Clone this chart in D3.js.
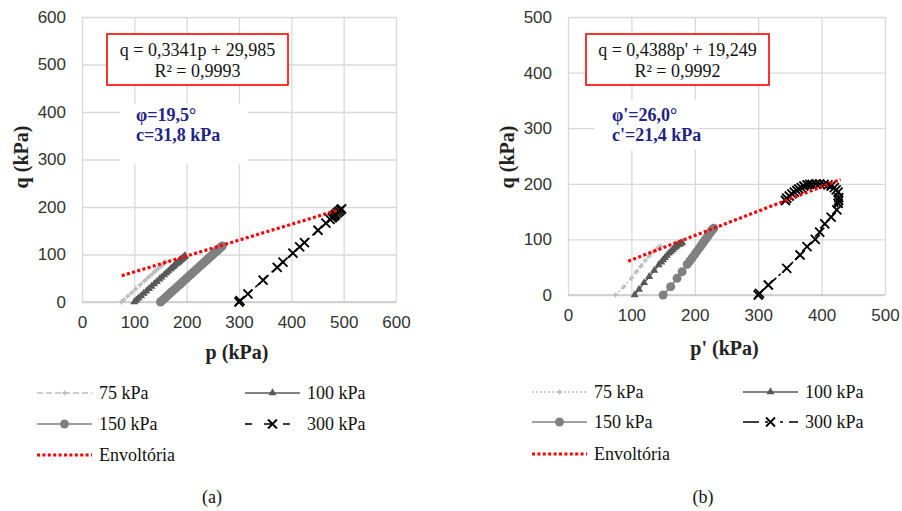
<!DOCTYPE html>
<html>
<head>
<meta charset="utf-8">
<script src="https://cdn.jsdelivr.net/npm/d3@7"></script>
<style>
  body { margin: 0; background: #fff; }
  svg text { font-family: "Liberation Serif", "Times New Roman", serif; }
  .tick text { font-family: "Liberation Sans", Arial, sans-serif; font-size: 17px; fill: #333; }
</style>
</head>
<body>
<svg id="chart" width="902" height="511"></svg>
<script>
// ---- data, panel (a): total stress p x q ----
const pA75 = [75, 80, 87, 95, 103, 111, 119, 125, 130, 135, 139, 142, 145, 148, 151, 153, 155, 157, 159, 160];
const qA75 = [0, 5, 12, 20, 28, 36, 44, 50, 55, 60, 64, 67, 70, 73, 76, 78, 80, 82, 84, 85];
const pA100 = [100, 104, 108, 113, 118, 123, 128, 133, 138, 143, 148, 152, 157, 161, 165, 169, 172, 175, 178, 181, 183, 185, 187, 189, 190, 192, 193, 195, 196, 197];
const qA100 = [0, 4, 8, 13, 18, 23, 28, 33, 38, 43, 48, 52, 57, 61, 65, 69, 72, 75, 78, 81, 83, 85, 87, 89, 90, 92, 93, 95, 96, 97];
const pA150 = [150, 153, 156, 160, 164, 168, 172, 176, 180, 184, 188, 192, 196, 200, 204, 208, 212, 216, 220, 224, 227, 230, 233, 236, 239, 242, 245, 248, 251, 254, 256, 258, 260, 262, 264, 266, 268];
const qA150 = [0, 3, 6, 10, 14, 18, 22, 26, 30, 34, 38, 42, 46, 50, 54, 58, 62, 66, 70, 74, 77, 80, 83, 86, 89, 92, 95, 98, 101, 104, 106, 108, 110, 112, 114, 116, 118];
const pA300 = [300, 302, 317, 346, 373, 384, 403, 416, 425, 451, 466, 474, 478, 480, 483, 485, 488, 491, 494, 496];
const qA300 = [0, 3, 17, 46, 73, 84, 103, 116, 125, 151, 166, 174, 177, 180, 182, 185, 188, 191, 194, 196];
const pAEnv = [76, 490];
const qAEnv = [55.4, 193.7];

// ---- data, panel (b): effective stress p' x q ----
const pB75 = [75, 88, 100, 108, 115, 122, 128, 134, 139, 143, 146];
const qB75 = [0, 15, 30, 42, 52, 62, 70, 77, 82, 86, 88];
const pB100 = [105, 112, 120, 128, 136, 143, 147, 150, 153, 156, 159, 162, 165, 167, 169, 171, 173, 175, 177, 178, 180];
const qB100 = [0, 10, 22, 33, 44, 54, 59, 63, 67, 71, 75, 78, 81, 84, 86, 88, 90, 91, 92, 93, 94];
const pB150 = [150, 162, 172, 180, 188, 192, 196, 200, 203, 207, 210, 213, 216, 219, 221, 223, 225, 227, 228, 230];
const qB150 = [0, 15, 30, 42, 55, 61, 67, 73, 78, 84, 89, 94, 99, 103, 107, 110, 113, 116, 118, 120];
const pB300 = [300, 302, 316, 345, 366, 377, 390, 397, 405, 415, 424, 426, 427, 427, 426, 423, 420, 415, 410, 404, 397, 391, 385, 381, 377, 372, 368, 364, 361, 357, 353, 349, 345, 343];
const qB300 = [0, 3, 18, 48, 72, 87, 100, 113, 128, 140, 153, 165, 170, 175, 185, 189, 193, 196, 198, 199, 200, 200, 199, 199, 198, 196, 193, 191, 188, 185, 182, 178, 174, 170];
const pBEnv = [95, 430];
const qBEnv = [60.9, 207.9];

const seriesLabels = ['75 kPa', '100 kPa', '150 kPa', '300 kPa'];
const seriesColors = ['#bdbdbd', '#595959', '#808080', '#000000'];
const envLabel = 'Envoltória';

const svg = d3.select('#chart');

function zip(ps, qs) {
  return ps.map((p, i) => [p, qs[i]]);
}

function drawMarker(g, kind, color, x, y) {
  if (kind === 'plus') {
    g.append('path').attr('d', `M${x - 2.5},${y}L${x + 2.5},${y}M${x},${y - 2.5}L${x},${y + 2.5}`)
      .attr('stroke', color).attr('stroke-width', 1.6);
  } else if (kind === 'tri') {
    g.append('path').attr('d', d3.symbol(d3.symbolTriangle, 28)()).attr('transform', `translate(${x},${y})`)
      .attr('fill', color);
  } else if (kind === 'circle') {
    g.append('circle').attr('cx', x).attr('cy', y).attr('r', 4.5).attr('fill', color);
  } else if (kind === 'x') {
    g.append('path').attr('d', `M${x - 4.5},${y - 4.5}L${x + 4.5},${y + 4.5}M${x - 4.5},${y + 4.5}L${x + 4.5},${y - 4.5}`)
      .attr('stroke', color).attr('stroke-width', 1.9);
  }
}

function drawPanel(cfg) {
  const x = d3.scaleLinear().domain([0, cfg.max]).range([cfg.left, cfg.right]);
  const y = d3.scaleLinear().domain([0, cfg.max]).range([cfg.bottom, cfg.top]);
  const g = svg.append('g');

  // grid
  g.append('g')
    .attr('transform', `translate(0,${cfg.bottom})`)
    .call(d3.axisBottom(x).ticks(cfg.max / 100).tickSize(-(cfg.bottom - cfg.top)).tickPadding(cfg.xPad).tickFormat(d3.format('d')))
    .call(a => a.select('.domain').remove())
    .call(a => a.selectAll('.tick line').attr('stroke', '#d9d9d9').attr('stroke-width', 1.3));
  g.append('g')
    .attr('transform', `translate(${cfg.left},0)`)
    .call(d3.axisLeft(y).ticks(cfg.max / 100).tickSize(-(cfg.right - cfg.left)).tickPadding(16).tickFormat(d3.format('d')))
    .call(a => a.select('.domain').remove())
    .call(a => a.selectAll('.tick line').attr('stroke', '#d9d9d9').attr('stroke-width', 1.3));
  g.selectAll('.tick text').attr('font-family', null).attr('font-size', null);
  g.append('line').attr('x1', cfg.left).attr('x2', cfg.right).attr('y1', cfg.bottom).attr('y2', cfg.bottom)
    .attr('stroke', '#c8c8c8').attr('stroke-width', 1.3);

  // annotation box (white background hides grid)
  g.append('rect').attr('x', cfg.anno.x0).attr('y', cfg.anno.y0)
    .attr('width', cfg.anno.x1 - cfg.anno.x0).attr('height', cfg.anno.y1 - cfg.anno.y0).attr('fill', '#fff');
  cfg.anno.lines.forEach((t, i) => {
    g.append('text').attr('x', cfg.anno.tx).attr('y', cfg.anno.ty + i * 20)
      .attr('font-size', 18).attr('font-weight', 'bold').attr('fill', '#232384').text(t);
  });

  // equation box
  g.append('rect').attr('x', cfg.eq.x0).attr('y', 34).attr('width', cfg.eq.x1 - cfg.eq.x0).attr('height', 51)
    .attr('fill', '#fff').attr('stroke', '#ff0000').attr('stroke-width', 1.6);
  cfg.eq.lines.forEach((t, i) => {
    g.append('text').attr('x', (cfg.eq.x0 + cfg.eq.x1) / 2).attr('y', 56 + i * 21)
      .attr('text-anchor', 'middle').attr('font-size', 18).attr('fill', '#111').text(t);
  });

  const line = d3.line().x(d => x(d[0])).y(d => y(d[1]));

  cfg.series.forEach(s => {
    const pts = zip(s.p, s.q);
    g.append('path').attr('d', line(pts)).attr('fill', 'none')
      .attr('stroke', s.color).attr('stroke-width', 1.6).attr('stroke-dasharray', s.dash);
    const mg = g.append('g');
    pts.forEach(d => drawMarker(mg, s.marker, s.color, x(d[0]), y(d[1])));
  });

  // failure envelope
  g.append('path').attr('d', line(zip(cfg.env.p, cfg.env.q))).attr('fill', 'none')
    .attr('stroke', '#ff0000').attr('stroke-width', 3.2).attr('stroke-dasharray', '3,2.4');

  // axis titles
  g.append('text').attr('x', (cfg.left + cfg.right) / 2 - 2).attr('y', cfg.xTitleY)
    .attr('text-anchor', 'middle').attr('font-size', 20).attr('font-weight', 'bold').attr('fill', '#222')
    .text(cfg.xTitle);
  g.append('text').attr('transform', `translate(${cfg.yTitleX},157) rotate(-90)`)
    .attr('text-anchor', 'middle').attr('font-size', 20).attr('font-weight', 'bold').attr('fill', '#222')
    .text('q (kPa)');

  // legend
  const lg = g.append('g');
  const rows = [cfg.leg.rows[0], cfg.leg.rows[0], cfg.leg.rows[1], cfg.leg.rows[1]];
  const cols = [cfg.leg.cols[0], cfg.leg.cols[1], cfg.leg.cols[0], cfg.leg.cols[1]];
  cfg.series.forEach((s, i) => {
    const lx = cols[i], ly = rows[i];
    lg.append('line').attr('x1', lx).attr('x2', lx + 55).attr('y1', ly).attr('y2', ly)
      .attr('stroke', s.color).attr('stroke-width', 1.6).attr('stroke-dasharray', s.legDash);
    drawMarker(lg, s.marker, s.color, lx + 27.5, ly);
    lg.append('text').attr('x', lx + 62).attr('y', ly + 6).attr('font-size', 18).attr('fill', '#111').text(seriesLabels[i]);
  });
  const ey = cfg.leg.rows[2];
  lg.append('line').attr('x1', cfg.leg.cols[0]).attr('x2', cfg.leg.cols[0] + 55).attr('y1', ey).attr('y2', ey)
    .attr('stroke', '#ff0000').attr('stroke-width', 3.2).attr('stroke-dasharray', '3,2.4');
  lg.append('text').attr('x', cfg.leg.cols[0] + 62).attr('y', ey + 6).attr('font-size', 18).attr('fill', '#111').text(envLabel);

  g.append('text').attr('x', cfg.capX).attr('y', 503).attr('text-anchor', 'middle')
    .attr('font-size', 18).attr('fill', '#111').text(cfg.caption);
}

drawPanel({
  max: 600, left: 82, right: 396, top: 17, bottom: 302, xPad: 14,
  series: [
    { p: pA75, q: qA75, color: seriesColors[0], marker: 'plus', dash: '5,3', legDash: '6,3' },
    { p: pA100, q: qA100, color: seriesColors[1], marker: 'tri', dash: null, legDash: null },
    { p: pA150, q: qA150, color: seriesColors[2], marker: 'circle', dash: null, legDash: null },
    { p: pA300, q: qA300, color: seriesColors[3], marker: 'x', dash: '7,4', legDash: '7,12' }
  ],
  env: { p: pAEnv, q: qAEnv },
  eq: { x0: 107, x1: 288, lines: ['q = 0,3341p + 29,985', 'R² = 0,9993'] },
  anno: { x0: 120, x1: 248, y0: 104, y1: 164, tx: 136, ty: 121, lines: ['φ=19,5°', 'c=31,8 kPa'] },
  xTitle: 'p (kPa)', xTitleY: 359, yTitleX: 28,
  leg: { cols: [37, 245], rows: [393, 424, 455] },
  capX: 212, caption: '(a)'
});

drawPanel({
  max: 500, left: 568, right: 885, top: 17, bottom: 295, xPad: 14,
  series: [
    { p: pB75, q: qB75, color: seriesColors[0], marker: 'plus', dash: '2,2', legDash: '2,2' },
    { p: pB100, q: qB100, color: seriesColors[1], marker: 'tri', dash: null, legDash: null },
    { p: pB150, q: qB150, color: seriesColors[2], marker: 'circle', dash: null, legDash: null },
    { p: pB300, q: qB300, color: seriesColors[3], marker: 'x', dash: '8,3,3,3', legDash: '16,6,3,12,3,6' }
  ],
  env: { p: pBEnv, q: qBEnv },
  eq: { x0: 586, x1: 769, lines: ["q = 0,4388p' + 19,249", 'R² = 0,9992'] },
  anno: { x0: 595, x1: 698, y0: 100, y1: 150, tx: 612, ty: 121, lines: ["φ'=26,0°", "c'=21,4 kPa"] },
  xTitle: "p' (kPa)", xTitleY: 355, yTitleX: 514,
  leg: { cols: [532, 743], rows: [392, 422, 454] },
  capX: 703, caption: '(b)'
});
</script>
</body>
</html>
